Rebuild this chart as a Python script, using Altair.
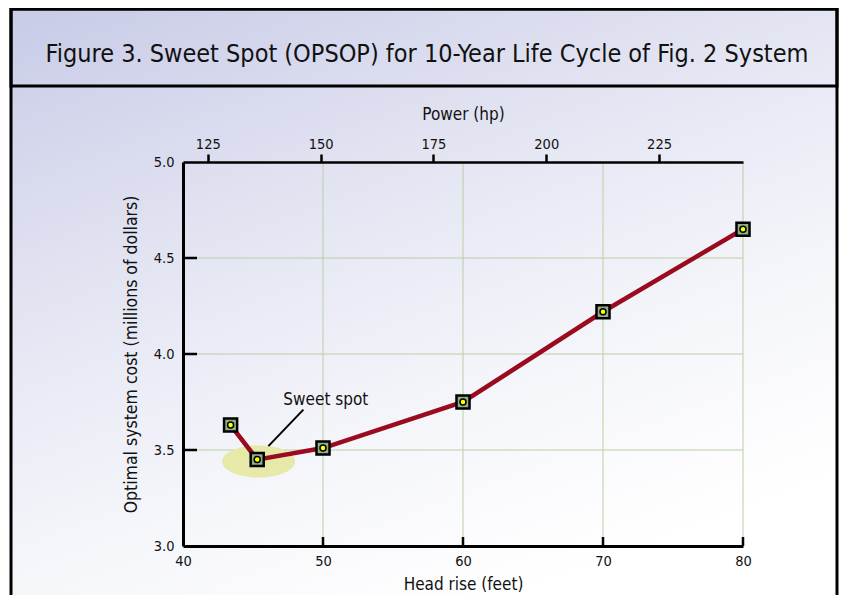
import math
import altair as alt
import pandas as pd

# ---------------- data ----------------
head = [43.4, 45.3, 50.0, 60.0, 70.0, 80.0]          # Head rise (feet)
cost = [3.63, 3.45, 3.51, 3.75, 4.22, 4.65]          # Optimal system cost ($M)
x_ticks = [40, 50, 60, 70, 80]
y_ticks = [3.0, 3.5, 4.0, 4.5, 5.0]
x_grid = [50, 60, 70, 80]
y_grid = [3.5, 4.0, 4.5]
power_ticks = [125, 150, 175, 200, 225]
power_domain = [119.5, 243.6]
spot_head = [45.4]
spot_cost = [3.44]
label_head = [50.2]
label_cost = [3.76]
leader_head = [48.6, 46.1]
leader_cost = [3.71, 3.52]

TITLE = "Figure 3. Sweet Spot (OPSOP) for 10-Year Life Cycle of Fig. 2 System"
FONT = "Liberation Sans Narrow, DejaVu Sans Condensed, Roboto Condensed, Liberation Sans, Arial, sans-serif"

W, H = 560, 384
xs = alt.Scale(domain=[40, 80], nice=False, zero=False)
ys = alt.Scale(domain=[3.0, 5.0], nice=False, zero=False)

df = pd.DataFrame({"head": head, "cost": cost})
one = pd.DataFrame({"a": [0]})

# ellipse shape (unit path, scaled by Vega)
pts = []
for i in range(48):
    t = 2 * math.pi * i / 48
    pts.append(f"{math.cos(t):.4f},{0.44 * math.sin(t):.4f}")
ellipse_path = "M" + " L".join(pts) + " Z"

grad = alt.LinearGradient(
    gradient="linear",
    stops=[
        alt.GradientStop(offset=0, color="#c8cbe7"),
        alt.GradientStop(offset=0.35, color="#e0e2f1"),
        alt.GradientStop(offset=0.7, color="#f4f5fa"),
        alt.GradientStop(offset=1, color="#ffffff"),
    ],
    x1=0, y1=0, x2=0.5, y2=1,
)

x_axis = alt.Axis(
    values=x_ticks, title="Head rise (feet)", grid=False, ticks=False,
    domainColor="black", domainWidth=3, labelFont=FONT, labelFontSize=14.5,
    labelColor="#111111", labelPadding=8, labelFlush=False,
    titleFont=FONT, titleFontSize=17, titleFontWeight="normal", titleColor="#111111",
    titlePadding=9, zindex=1,
)
y_axis = alt.Axis(
    values=y_ticks, format=".1f", title="Optimal system cost (millions of dollars)",
    grid=False, ticks=False, domainColor="black", domainWidth=3, labelFont=FONT,
    labelFontSize=14.5, labelColor="#111111", labelPadding=9, labelFlush=False,
    titleFont=FONT, titleFontSize=17.5, titleFontWeight="normal", titleColor="#111111",
    titlePadding=13, zindex=1,
)


def X():
    return alt.X("head:Q", scale=xs, axis=x_axis)


def Y():
    return alt.Y("cost:Q", scale=ys, axis=y_axis)


bg = alt.Chart(one).mark_rect(fill=grad, stroke="black", strokeWidth=3).encode(
    x=alt.value(-172), x2=alt.value(654), y=alt.value(-153), y2=alt.value(470)
)
titlebox = alt.Chart(one).mark_rect(fillOpacity=0, stroke="black", strokeWidth=3).encode(
    x=alt.value(-172), x2=alt.value(654), y=alt.value(-153), y2=alt.value(-76)
)
title = alt.Chart(one).mark_text(
    text=TITLE, font=FONT, fontSize=25, color="#111111", align="center", baseline="middle"
).encode(x=alt.value(244), y=alt.value(-108))

gx = alt.Chart(pd.DataFrame({"head": x_grid})).mark_rule(color="#b9d0a2", strokeWidth=1).encode(
    x=X(), y=alt.value(0), y2=alt.value(H)
)
gy = alt.Chart(pd.DataFrame({"cost": y_grid})).mark_rule(color="#b9d0a2", strokeWidth=1).encode(
    y=Y(), x=alt.value(0), x2=alt.value(W)
)

ellipse = alt.Chart(pd.DataFrame({"head": spot_head, "cost": spot_cost})).mark_point(
    shape=ellipse_path, filled=True, fill="#e6e9a8", opacity=1, size=5329, strokeWidth=0
).encode(x=X(), y=Y())

leader = alt.Chart(pd.DataFrame({"head": leader_head, "cost": leader_cost})).mark_line(
    color="black", strokeWidth=2
).encode(x=X(), y=Y())

sweet = alt.Chart(pd.DataFrame({"head": label_head, "cost": label_cost})).mark_text(
    text="Sweet spot", font=FONT, fontSize=17, color="#111111", align="center", baseline="middle"
).encode(x=X(), y=Y())

line = alt.Chart(df).mark_line(color="#9a0b1f", strokeWidth=4.5).encode(x=X(), y=Y())
squares = alt.Chart(df).mark_square(
    size=170, fill="#8fae8a", stroke="black", strokeWidth=2.5, opacity=1
).encode(x=X(), y=Y())
dots = alt.Chart(df).mark_circle(
    size=36, color="#ffff00", stroke="black", strokeWidth=1.5, opacity=1
).encode(x=X(), y=Y())

xt = alt.Chart(pd.DataFrame({"head": x_grid})).mark_rule(color="black", strokeWidth=2.5).encode(
    x=X(), y=alt.value(H), y2=alt.value(H - 9)
)
yt = alt.Chart(pd.DataFrame({"cost": y_grid})).mark_rule(color="black", strokeWidth=2.5).encode(
    y=Y(), x=alt.value(0), x2=alt.value(14)
)

inner = alt.layer(bg, titlebox, title, gx, gy, ellipse, leader, sweet, line, squares, dots, xt, yt)

power = alt.Chart(pd.DataFrame({"hp": power_ticks})).mark_point(opacity=0).encode(
    x=alt.X(
        "hp:Q",
        scale=alt.Scale(domain=power_domain, nice=False, zero=False),
        axis=alt.Axis(
            orient="top", values=power_ticks, title="Power (hp)", grid=False,
            ticks=True, tickSize=8, tickWidth=2.5, tickColor="black",
            domainColor="black", domainWidth=2.5, labelFont=FONT, labelFontSize=14.5,
            labelColor="#111111", labelPadding=3, labelFlush=False,
            titleFont=FONT, titleFontSize=17, titleFontWeight="normal",
            titleColor="#111111", titlePadding=13, zindex=1,
        ),
    )
)

chart = (
    alt.layer(inner, power)
    .resolve_scale(x="independent")
    .properties(
        width=W, height=H,
        autosize=alt.AutoSizeParams(type="none"),
        padding={"left": 175, "top": 154, "right": 96, "bottom": 49},
    )
    .configure_view(stroke=None)
)

chart.save("out.html", embed_options={"renderer": "svg", "actions": False})
